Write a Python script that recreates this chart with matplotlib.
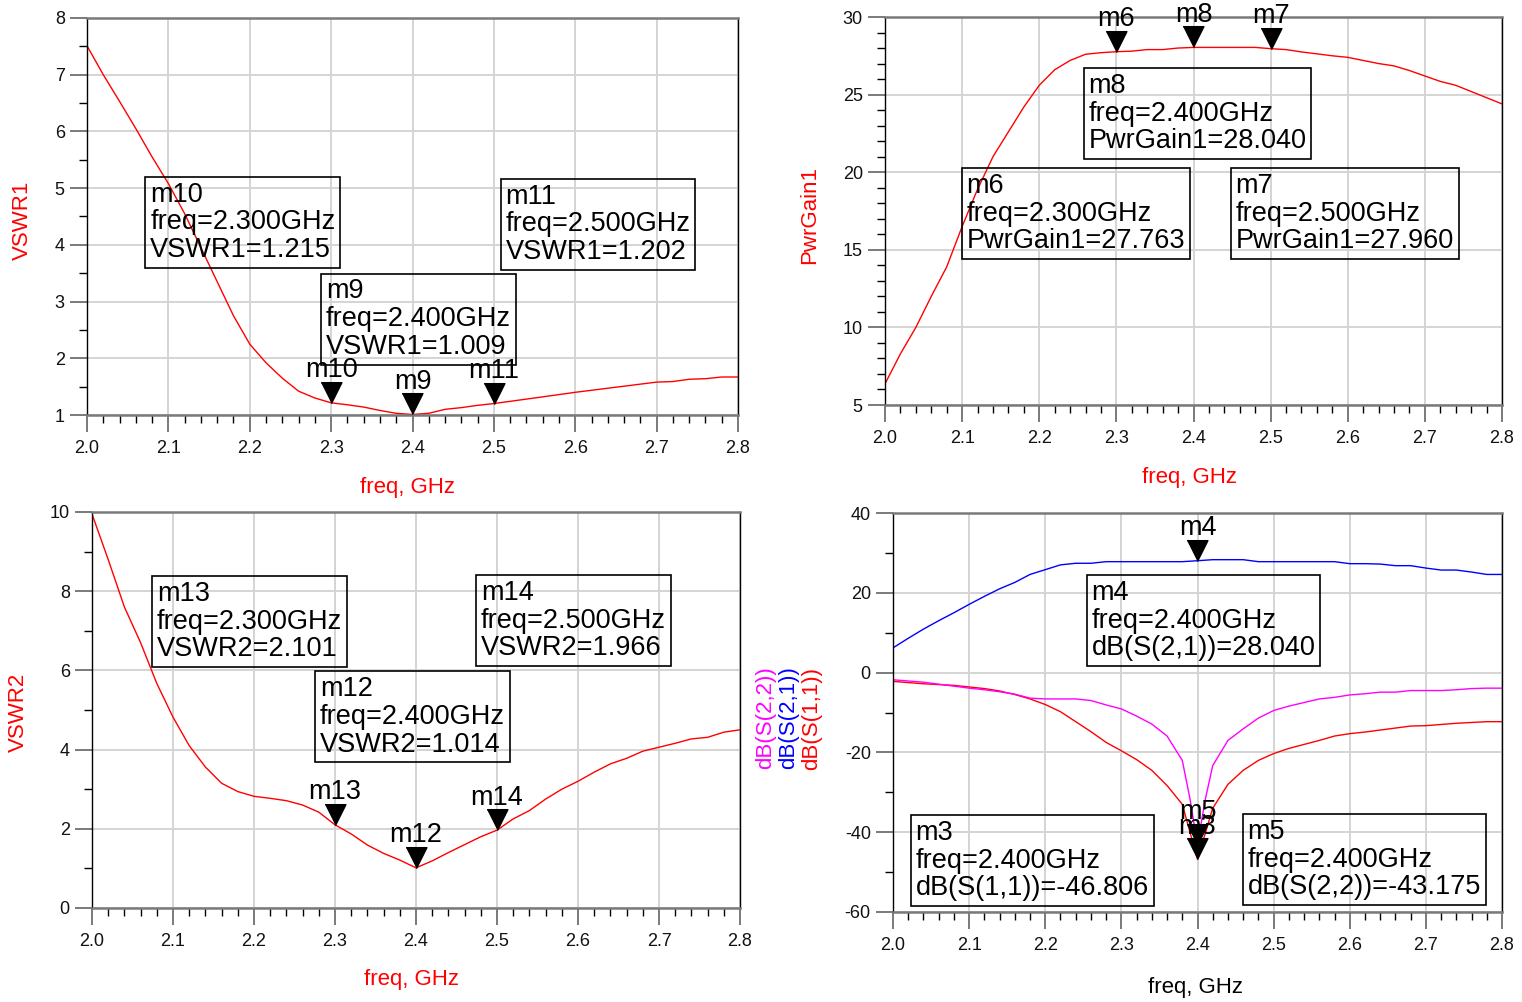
import numpy as np
import matplotlib
matplotlib.use("Agg")
import matplotlib.pyplot as plt

plt.rcParams['font.family'] = ['Liberation Sans', 'DejaVu Sans']
plt.rcParams['axes.unicode_minus'] = False

# ---- data ----
freq1 = [2.00, 2.02, 2.04, 2.06, 2.08, 2.10, 2.12, 2.14, 2.16, 2.18, 2.20, 2.22,
         2.24, 2.26, 2.28, 2.30, 2.32, 2.34, 2.36, 2.38, 2.40, 2.42, 2.44, 2.46,
         2.48, 2.50, 2.55, 2.60, 2.65, 2.70, 2.72, 2.74, 2.76, 2.78, 2.80]
vswr1 = [7.51, 7.00, 6.53, 6.05, 5.55, 5.08, 4.55, 3.95, 3.35, 2.75, 2.25, 1.92,
         1.65, 1.42, 1.30, 1.215, 1.18, 1.14, 1.08, 1.03, 1.009, 1.03, 1.10, 1.13,
         1.17, 1.202, 1.30, 1.40, 1.49, 1.58, 1.59, 1.63, 1.64, 1.67, 1.67]

freq2 = [2.00, 2.02, 2.04, 2.06, 2.08, 2.10, 2.12, 2.14, 2.16, 2.18, 2.20, 2.22,
         2.24, 2.26, 2.28, 2.30, 2.32, 2.34, 2.36, 2.38, 2.40, 2.44, 2.48, 2.50,
         2.52, 2.54, 2.58, 2.60, 2.62, 2.64, 2.66, 2.68, 2.70, 2.72, 2.74, 2.76, 2.80]
gain = [6.36, 8.3, 10.0, 12.0, 13.9, 16.5, 18.9, 21.0, 22.6, 24.2, 25.6, 26.6,
        27.2, 27.6, 27.7, 27.763, 27.8, 27.9, 27.9, 28.0, 28.04, 28.04, 28.04, 27.96,
        27.9, 27.75, 27.5, 27.4, 27.2, 27.0, 26.85, 26.55, 26.2, 25.85, 25.6, 25.2, 24.4]

freq3 = [2.00, 2.02, 2.04, 2.06, 2.08, 2.10, 2.12, 2.14, 2.16, 2.18, 2.20, 2.22,
         2.24, 2.26, 2.28, 2.30, 2.32, 2.34, 2.36, 2.38, 2.40, 2.42, 2.44, 2.46,
         2.48, 2.50, 2.52, 2.54, 2.56, 2.58, 2.60, 2.62, 2.64, 2.66, 2.68, 2.70,
         2.72, 2.74, 2.76, 2.78, 2.80]
vswr2 = [9.95, 8.80, 7.60, 6.70, 5.67, 4.82, 4.10, 3.56, 3.15, 2.94, 2.82, 2.77,
         2.71, 2.60, 2.42, 2.101, 1.87, 1.59, 1.38, 1.21, 1.014, 1.19, 1.40, 1.60,
         1.80, 1.966, 2.25, 2.46, 2.75, 3.00, 3.20, 3.43, 3.64, 3.78, 3.96, 4.06,
         4.16, 4.27, 4.31, 4.44, 4.50]

freq4 = [2.00, 2.02, 2.04, 2.06, 2.08, 2.10, 2.12, 2.14, 2.16, 2.18, 2.20, 2.22,
         2.24, 2.26, 2.28, 2.30, 2.32, 2.34, 2.36, 2.38, 2.40, 2.42, 2.44, 2.46,
         2.48, 2.50, 2.52, 2.54, 2.56, 2.58, 2.60, 2.62, 2.64, 2.66, 2.68, 2.70,
         2.72, 2.74, 2.76, 2.78, 2.80]
s21 = [6.2, 8.6, 10.9, 13.0, 15.0, 17.1, 19.1, 21.0, 22.6, 24.6, 25.8, 27.0,
       27.4, 27.4, 27.8, 27.8, 27.8, 27.8, 27.8, 27.8, 28.04, 28.3, 28.3, 28.3,
       27.8, 27.8, 27.8, 27.8, 27.8, 27.8, 27.3, 27.3, 27.2, 26.8, 26.8, 26.2,
       25.7, 25.7, 25.2, 24.6, 24.6]
s11 = [-2.2, -2.5, -2.8, -3.0, -3.2, -3.6, -4.0, -4.6, -5.5, -6.6, -8.0, -9.8,
       -12.3, -14.8, -17.5, -19.6, -21.8, -24.5, -28.3, -33.0, -46.806, -34.0, -28.0, -24.5,
       -22.0, -20.3, -19.0, -18.0, -17.0, -15.9, -15.3, -14.9, -14.4, -13.9, -13.4, -13.3,
       -13.0, -12.7, -12.5, -12.3, -12.3]
freq22 = [2.00, 2.02, 2.04, 2.06, 2.08, 2.10, 2.12, 2.14, 2.16, 2.18, 2.20, 2.22,
          2.24, 2.26, 2.28, 2.30, 2.32, 2.34, 2.36, 2.38, 2.39, 2.40, 2.41, 2.42,
          2.44, 2.46, 2.48, 2.50, 2.52, 2.54, 2.56, 2.58, 2.60, 2.62, 2.64, 2.66,
          2.68, 2.70, 2.72, 2.74, 2.76, 2.78, 2.80]
s22 = [-1.8, -2.1, -2.4, -2.9, -3.4, -3.9, -4.3, -4.8, -5.4, -6.4, -6.6, -6.6,
       -6.6, -7.0, -8.1, -9.1, -10.9, -12.9, -15.9, -22.0, -31.5, -43.175, -32.0, -23.3,
       -17.0, -14.1, -11.4, -9.5, -8.4, -7.5, -6.6, -6.2, -5.6, -5.3, -4.9, -4.9,
       -4.5, -4.5, -4.5, -4.3, -4.0, -3.9, -3.9]

# markers: name, freq, value, readout line
mk1_names = ["m10", "m9", "m11"]
mk1_freq = [2.3, 2.4, 2.5]
mk1_val = [1.215, 1.009, 1.202]
mk2_names = ["m6", "m8", "m7"]
mk2_freq = [2.3, 2.4, 2.5]
mk2_val = [27.763, 28.040, 27.960]
mk3_names = ["m13", "m12", "m14"]
mk3_freq = [2.3, 2.4, 2.5]
mk3_val = [2.101, 1.014, 1.966]
mk4_names = ["m4", "m3", "m5"]
mk4_freq = [2.4, 2.4, 2.4]
mk4_val = [28.040, -46.806, -43.175]
mk4_expr = ["dB(S(2,1))", "dB(S(1,1))", "dB(S(2,2))"]

W, H = 1522, 1002
fig = plt.figure(figsize=(W / 100, H / 100), dpi=100)


def px_axes(x0, x1, y0, y1):
    return fig.add_axes([x0 / W, 1 - y1 / H, (x1 - x0) / W, (y1 - y0) / H])


def style(ax, ylim, ymaj, ymin):
    ax.set_xlim(2.0, 2.8)
    ax.set_ylim(*ylim)
    xt = np.arange(2.0, 2.801, 0.1)
    ax.set_xticks(xt)
    ax.set_xticklabels(["%.1f" % v for v in xt])
    ax.set_xticks(np.arange(2.0, 2.801, 0.02), minor=True)
    ax.set_yticks(np.arange(ylim[0], ylim[1] + 1e-9, ymaj))
    ax.set_yticks(np.arange(ylim[0], ylim[1] + 1e-9, ymin), minor=True)
    ax.grid(True, which="major", color="#d4d4d4", lw=1.4)
    ax.set_axisbelow(True)
    for s in ["left", "right"]:
        ax.spines[s].set_color("black")
        ax.spines[s].set_linewidth(1.0)
    for s in ["top", "bottom"]:
        ax.spines[s].set_color("#7a7a7a")
        ax.spines[s].set_linewidth(1.8)
    ax.tick_params(which="major", direction="out", length=12, width=1.4,
                   color="#7a7a7a", labelsize=13, pad=4, labelcolor="#111111")
    ax.tick_params(axis="x", which="major", pad=6)
    ax.tick_params(which="minor", direction="out", length=6, width=1.0, color="black")


marker_verts = [(-0.5, 1.0), (0.5, 1.0), (0.0, 0.0)]


def markers(ax, names, fx, vals):
    for n, f, v in zip(names, fx, vals):
        ax.plot([f], [v], marker=marker_verts, ms=30, color="black", ls="none",
                zorder=5, clip_on=False)
        ax.annotate(n, xy=(f, v), xytext=(0, 14), textcoords="offset points",
                    ha="center", va="bottom", fontsize=19.5, zorder=4,
                    annotation_clip=False)


def readout(ax, xa, ya, txt):
    ax.text(xa, ya, txt, transform=ax.transAxes, ha="left", va="top",
            fontsize=19.5, linespacing=1.08, zorder=6,
            bbox=dict(boxstyle="square,pad=0.18", fc="none", ec="black", lw=1.2))


def figtext(x, y, s, **kw):
    fig.text(x / W, 1 - y / H, s, ha="center", va="center", **kw)


# ---- top left: VSWR1 ----
ax1 = px_axes(87, 738, 18, 415)
style(ax1, (1, 8), 1, 0.5)
ax1.plot(freq1, vswr1, color="red", lw=1.0)
markers(ax1, mk1_names, mk1_freq, mk1_val)
readout(ax1, 0.097, 0.588, "%s\nfreq=%.3fGHz\nVSWR1=%.3f" % (mk1_names[0], mk1_freq[0], mk1_val[0]))
readout(ax1, 0.643, 0.583, "%s\nfreq=%.3fGHz\nVSWR1=%.3f" % (mk1_names[2], mk1_freq[2], mk1_val[2]))
readout(ax1, 0.367, 0.344, "%s\nfreq=%.3fGHz\nVSWR1=%.3f" % (mk1_names[1], mk1_freq[1], mk1_val[1]))
figtext(22, 220, "VSWR1", rotation=90, color="red", fontsize=16)
figtext(408, 488, "freq, GHz", color="red", fontsize=16)

# ---- top right: PwrGain1 ----
ax2 = px_axes(885, 1502, 17, 405)
style(ax2, (5, 30), 5, 1)
ax2.plot(freq2, gain, color="red", lw=1.0)
markers(ax2, mk2_names, mk2_freq, mk2_val)
readout(ax2, 0.330, 0.855, "%s\nfreq=%.3fGHz\nPwrGain1=%.3f" % (mk2_names[1], mk2_freq[1], mk2_val[1]))
readout(ax2, 0.132, 0.598, "%s\nfreq=%.3fGHz\nPwrGain1=%.3f" % (mk2_names[0], mk2_freq[0], mk2_val[0]))
readout(ax2, 0.568, 0.598, "%s\nfreq=%.3fGHz\nPwrGain1=%.3f" % (mk2_names[2], mk2_freq[2], mk2_val[2]))
figtext(810, 215, "PwrGain1", rotation=90, color="red", fontsize=16)
figtext(1190, 478, "freq, GHz", color="red", fontsize=16)

# ---- bottom left: VSWR2 ----
ax3 = px_axes(92, 740, 512, 908)
style(ax3, (0, 10), 2, 1)
ax3.plot(freq3, vswr2, color="red", lw=1.0)
markers(ax3, mk3_names, mk3_freq, mk3_val)
readout(ax3, 0.100, 0.825, "%s\nfreq=%.3fGHz\nVSWR2=%.3f" % (mk3_names[0], mk3_freq[0], mk3_val[0]))
readout(ax3, 0.600, 0.828, "%s\nfreq=%.3fGHz\nVSWR2=%.3f" % (mk3_names[2], mk3_freq[2], mk3_val[2]))
readout(ax3, 0.352, 0.585, "%s\nfreq=%.3fGHz\nVSWR2=%.3f" % (mk3_names[1], mk3_freq[1], mk3_val[1]))
figtext(18, 712, "VSWR2", rotation=90, color="red", fontsize=16)
figtext(412, 980, "freq, GHz", color="red", fontsize=16)

# ---- bottom right: S-parameters ----
ax4 = px_axes(893, 1502, 513, 912)
style(ax4, (-60, 40), 20, 10)
ax4.plot(freq4, s21, color="blue", lw=1.0)
ax4.plot(freq4, s11, color="red", lw=1.0)
ax4.plot(freq22, s22, color="magenta", lw=1.0)
markers(ax4, mk4_names, mk4_freq, mk4_val)
readout(ax4, 0.326, 0.832, "%s\nfreq=%.3fGHz\n%s=%.3f" % (mk4_names[0], mk4_freq[0], mk4_expr[0], mk4_val[0]))
readout(ax4, 0.037, 0.230, "%s\nfreq=%.3fGHz\n%s=%.3f" % (mk4_names[1], mk4_freq[1], mk4_expr[1], mk4_val[1]))
readout(ax4, 0.582, 0.233, "%s\nfreq=%.3fGHz\n%s=%.3f" % (mk4_names[2], mk4_freq[2], mk4_expr[2], mk4_val[2]))
figtext(766, 718, "dB(S(2,2))", rotation=90, color="magenta", fontsize=16)
figtext(789, 718, "dB(S(2,1))", rotation=90, color="blue", fontsize=16)
figtext(812, 718, "dB(S(1,1))", rotation=90, color="red", fontsize=16)
figtext(1195, 987, "freq, GHz", color="black", fontsize=16)

fig.savefig("out.png", dpi=100)
